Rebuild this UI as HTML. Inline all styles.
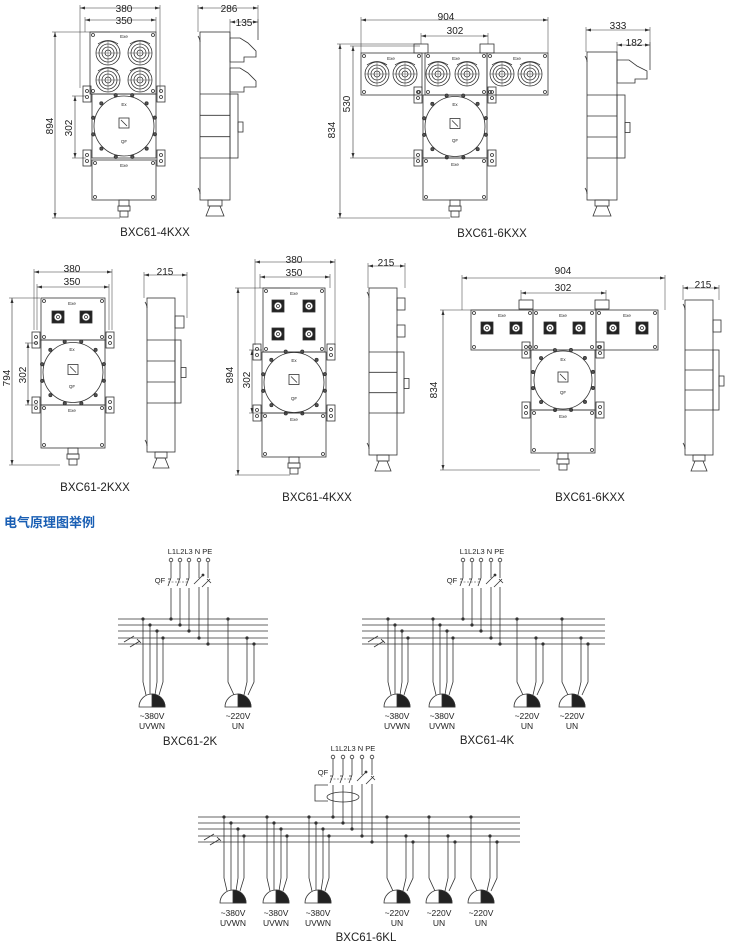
<!DOCTYPE html>
<html><head><meta charset="utf-8"><style>
html,body{margin:0;padding:0;background:#fff}
svg{display:block}
text{font-family:"Liberation Sans",Arial,sans-serif;fill:#222}
</style></head><body>
<svg id="s" width="730" height="942" viewBox="0 0 730 942" xmlns="http://www.w3.org/2000/svg">
<g id="g" fill="none" stroke="#333" stroke-width="0.8"></g>
<g font-size="10" text-anchor="middle">
<text x="124" y="12">380</text><text x="124" y="24">350</text>
<text x="53" y="126" transform="rotate(-90 53 126)">894</text>
<text x="72" y="128" transform="rotate(-90 72 128)">302</text>
<text x="229" y="12">286</text><text x="244" y="26">135</text>
<text x="155" y="236" font-size="11.5">BXC61-4KXX</text>

<text x="446" y="20">904</text><text x="455" y="34">302</text>
<text x="350" y="104" transform="rotate(-90 350 104)">530</text>
<text x="335" y="130" transform="rotate(-90 335 130)">834</text>
<text x="618" y="29">333</text><text x="634" y="46">182</text>
<text x="492" y="237" font-size="11.5">BXC61-6KXX</text>

<text x="72" y="272">380</text><text x="72" y="285">350</text>
<text x="10" y="378" transform="rotate(-90 10 378)">794</text>
<text x="26" y="375" transform="rotate(-90 26 375)">302</text>
<text x="165" y="275">215</text>
<text x="95" y="491" font-size="11.5">BXC61-2KXX</text>

<text x="294" y="263">380</text><text x="294" y="276">350</text>
<text x="233" y="375" transform="rotate(-90 233 375)">894</text>
<text x="250" y="380" transform="rotate(-90 250 380)">302</text>
<text x="386" y="266">215</text>
<text x="317" y="501" font-size="11.5">BXC61-4KXX</text>

<text x="563" y="274">904</text><text x="563" y="291">302</text>
<text x="437" y="390" transform="rotate(-90 437 390)">834</text>
<text x="703" y="288">215</text>
<text x="590" y="501" font-size="11.5">BXC61-6KXX</text>
</g>
<g font-size="4.5" text-anchor="middle">
<text x="124" y="38">Exe</text><text x="124" y="106">Ex</text><text x="124" y="143">QF</text><text x="124" y="167">Exe</text>
<text x="391" y="60">Exe</text><text x="456" y="60">Exe</text><text x="517" y="60">Exe</text>
<text x="455" y="106">Ex</text><text x="455" y="142">QF</text><text x="455" y="166">Exe</text>
<text x="72" y="305">Exe</text><text x="72" y="351">Ex</text><text x="72" y="388">QF</text><text x="72" y="412">Exe</text>
<text x="294" y="295">Exe</text><text x="294" y="362">Ex</text><text x="294" y="400">QF</text><text x="294" y="421">Exe</text>
<text x="502" y="317">Exe</text><text x="563" y="317">Exe</text><text x="627" y="317">Exe</text>
<text x="563" y="361">Ex</text><text x="563" y="394">QF</text><text x="563" y="418">Exe</text>
</g>
<text x="4" y="527" font-size="13" font-weight="bold" style="fill:#1a5fb4;font-family:'Liberation Sans','Noto Sans CJK SC',sans-serif">电气原理图举例</text>
<g font-size="7.5" text-anchor="middle">
<text x="190" y="554">L1L2L3 N PE</text><text x="160" y="583">QF</text>
<text x="482" y="554">L1L2L3 N PE</text><text x="452" y="583">QF</text>
<text x="353" y="751">L1L2L3 N PE</text><text x="323" y="775">QF</text>
</g>
<g font-size="8.5" text-anchor="middle">
<text x="152" y="719">~380V</text><text x="152" y="729">UVWN</text>
<text x="238" y="719">~220V</text><text x="238" y="729">UN</text>
<text x="397" y="719">~380V</text><text x="397" y="729">UVWN</text>
<text x="442" y="719">~380V</text><text x="442" y="729">UVWN</text>
<text x="527" y="719">~220V</text><text x="527" y="729">UN</text>
<text x="572" y="719">~220V</text><text x="572" y="729">UN</text>
<text x="233" y="916">~380V</text><text x="233" y="926">UVWN</text>
<text x="276" y="916">~380V</text><text x="276" y="926">UVWN</text>
<text x="318" y="916">~380V</text><text x="318" y="926">UVWN</text>
<text x="397" y="916">~220V</text><text x="397" y="926">UN</text>
<text x="439" y="916">~220V</text><text x="439" y="926">UN</text>
<text x="481" y="916">~220V</text><text x="481" y="926">UN</text>
</g>
<g font-size="11.5" text-anchor="middle">
<text x="190" y="745">BXC61-2K</text><text x="487" y="744">BXC61-4K</text><text x="366" y="941">BXC61-6KL</text>
</g>
</svg>
<script>
var G=document.getElementById('g'),NS='http://www.w3.org/2000/svg';
function el(t,a){var e=document.createElementNS(NS,t);for(var k in a)e.setAttribute(k,a[k]);G.appendChild(e);return e;}
function L(x1,y1,x2,y2,a){var o={x1:x1,y1:y1,x2:x2,y2:y2};for(var k in a)o[k]=a[k];return el('line',o);}
function R(x,y,w,h,a){var o={x:x,y:y,width:w,height:h};for(var k in a)o[k]=a[k];return el('rect',o);}
function C(x,y,r,a){var o={cx:x,cy:y,r:r};for(var k in a)o[k]=a[k];return el('circle',o);}
function P(d,a){var o={d:d};for(var k in a)o[k]=a[k];return el('path',o);}
function arrow(x,y,dx,dy){var px=-dy,py=dx;P('M'+x+' '+y+'L'+(x-dx*5+px*1.5)+' '+(y-dy*5+py*1.5)+'L'+(x-dx*5-px*1.5)+' '+(y-dy*5-py*1.5)+'Z',{fill:'#333',stroke:'none'});}
function dimH(x0,x1,y,e0,e1){L(x0,y,x1,y,{'stroke-width':0.6});arrow(x0,y,-1,0);arrow(x1,y,1,0);L(x0,y-3,x0,e0,{'stroke-width':0.5});L(x1,y-3,x1,e1===undefined?e0:e1,{'stroke-width':0.5});}
function dimV(x,y0,y1,e0,e1){L(x,y0,x,y1,{'stroke-width':0.6});arrow(x,y0,0,-1);arrow(x,y1,0,1);L(x-3,y0,e0,y0,{'stroke-width':0.5});L(x-3,y1,e1===undefined?e0:e1,y1,{'stroke-width':0.5});}
function bolts(x,y,w,h){[[x+3,y+3],[x+w-3,y+3],[x+3,y+h-3],[x+w-3,y+h-3]].forEach(function(p){C(p[0],p[1],1.5);});}
function rsock(x,y){C(x,y,12);C(x,y,9);C(x,y,6);C(x,y,3);P('M'+(x-10)+' '+(y-9)+'Q'+x+' '+(y-16)+' '+(x+10)+' '+(y-9));L(x-12,y,x+12,y,{'stroke-width':0.4});L(x,y-12,x,y+12,{'stroke-width':0.4});}
function ssock(x,y){R(x-6,y-6,12,12,{fill:'#222'});C(x,y,4,{fill:'#fff'});C(x,y,1.5);}
function bracket(x,y){R(x,y,8,16);C(x+4,y+5,1.5);C(x+4,y+11,1.5);}
function mid(cx,y0,y1,r){var w=64;R(cx-w/2,y0,w,y1-y0);var cy=(y0+y1)/2;C(cx,cy,r);
 for(var i=0;i<12;i++){var a=i*Math.PI/6+0.26;C(cx+Math.cos(a)*(r+2),cy+Math.sin(a)*(r+2),1.6,{fill:'#555'});}
 R(cx-5,cy-8,10,10);L(cx-3,cy-6,cx+3,cy);
 bracket(cx-w/2-9,y0-8);bracket(cx+w/2+1,y0-8);bracket(cx-w/2-9,y1-8);bracket(cx+w/2+1,y1-8);}
function bottom(cx,y0,y1){R(cx-32,y0,64,y1-y0);bolts(cx-32,y0,64,y1-y0);R(cx-5,y1,10,6);R(cx-6,y1+6,12,5);R(cx-4,y1+11,8,6);}
function side(x0,x1,y0,ya,yb,y1,ext){R(x0,y0,x1-x0,y1-y0);L(x0,ya,x1,ya);L(x0,yb,x1,yb);R(x1,ya,ext,yb-ya);
 var s=(yb-ya)/3;L(x0,ya+s,x1,ya+s);L(x0,ya+2*s,x1,ya+2*s);R(x1+ext,(ya+yb)/2-4,5,10);
 P('M'+(x0-2)+' '+(y0+4)+'q2 3 2 6');P('M'+(x0-2)+' '+(y1-12)+'q2 3 2 6');
 R(x0+8,y1,x1-x0-16,6);P('M'+(x0+6)+' '+(y1+16)+'l4 -10h'+(x1-x0-20)+'l4 10z');}
/* Drawing 1 */
R(90,32,66,62);bolts(90,32,66,62);rsock(108,53);rsock(140,53);rsock(108,80);rsock(140,80);
mid(124,94,158,30);bottom(124,160,200);
dimH(80,160,8,88,92);dimH(85,156,20,32);dimV(55,32,218,110,120);dimV(75,96,158,86,86);
side(200,230,32,94,158,200,8);P('M230 38h10l8 5l8 8v6h-12v5h-14z');P('M230 68h10l8 5l8 8v6h-12v5h-14z');
dimH(198,258,8,32,40);dimH(230,258,22,40);
/* Drawing 2 */
[361,425,487].forEach(function(x,i){R(x,53,(i==1?62:61),42);bolts(x,53,(i==1?62:61),42);});
[377,405,438,467,502,530].forEach(function(x){rsock(x,74);});
R(414,44,14,9);R(480,44,14,9);
mid(455,95,158,30);bottom(455,158,200);
dimH(361,548,20,53);dimH(421,488,36,44);dimV(353,46,158,420,420);dimV(340,44,218,420,450);
side(587,617,52,95,158,200,8);P('M617 60h12l8 6l10 5v8h-12v4h-18z');
dimH(586,650,30,52,70);dimH(617,650,45,70);
/* Drawing 3 */
R(41,298,64,42);bolts(41,298,64,42);ssock(58,317);ssock(86,317);
mid(73,340,405,30);bottom(73,405,448);
dimH(34,112,272,330);dimH(37,109,287,330);dimV(12,298,465,40,60);dimV(28,343,405,38,38);
side(147,175,298,340,403,452,6);R(175,316,9,12);
dimH(144,187,275,298,318);
/* Drawing 4 */
R(263,288,62,64);bolts(263,288,62,64);ssock(278,306);ssock(309,306);ssock(278,334);ssock(309,334);
mid(294,352,413,30);bottom(294,413,457);
dimH(255,335,262,345);dimH(260,330,277,288);dimV(238,288,475,290,290);dimV(252,350,413,262,262);
side(369,397,288,352,413,455,7);R(397,298,8,12);R(397,325,8,12);
dimH(368,405,266,288);
/* Drawing 5 */
[471,533,596].forEach(function(x){R(x,310,(x==533?63:62),40);bolts(x,310,62,40);});
[487,516,550,579,613,642].forEach(function(x){ssock(x,328);});
R(519,300,14,9);R(595,300,14,9);
mid(563,350,410,29);bottom(563,410,453);
dimH(462,665,278,310);dimH(521,606,293,300);dimV(443,310,470,530,540);
side(685,713,300,350,410,455,6);R(713,320,8,12);
dimH(683,719,288,300);
/* schematics */
function sch(o){var tx=o.tx,ty=o.ty,by=o.by,q=ty+24;
 by.forEach(function(y){L(o.b0,y,o.b1,y);});
 L(o.b0+6,by[3]+4,o.b0+16,by[3]-2);L(o.b0+12,by[4]+3,o.b0+22,by[4]-3);L(o.b0+19,by[4]-5,o.b0+23,by[4]-1);
 tx.forEach(function(x,i){C(x,ty,1.8);L(x,ty+2,x,q-6);
  if(i<3){L(x,q-6,x-3,q+2);L(x-3,q-5,x,q-5);L(x,q+4,x,by[i]);}
  else if(i==3){L(x-5,q,x+4,q-9);C(x+4,q-9,1,{fill:'#333'});L(x,q+3,x,by[3]);}
  else{L(x-6,q+3,x+2,q-5);L(x-1,q-5,x+3,q-1);L(x,q+3,x,by[4]);}
  C(x,by[i],1.2,{fill:'#333'});});
 L(tx[0]-3,q-2,tx[2],q-2,{'stroke-dasharray':'2 1.5','stroke-width':0.5});
 if(o.ct){P('M'+(tx[0]-5)+' '+(q+4)+'h-13v16h13');el('ellipse',{cx:tx[1],cy:q+16,rx:16,ry:5});}
 o.s.forEach(function(s){var x=s[0],b=o.base,t=b-13;
  var offs=s[1]==3?[[-9,0],[-2,1],[5,2],[11,3]]:[[-10,0],[9,3],[16,4]];
  var tgt=s[1]==3?[-6,-2,3,7]:[-4,6,10];
  offs.forEach(function(p,i){var xx=x+p[0];C(xx,by[p[1]],1.2,{fill:'#333'});P('M'+xx+' '+by[p[1]]+'V'+(t-12)+'L'+(x+tgt[i])+' '+(t+1));});
  P('M'+(x-13)+' '+b+'A13 13 0 0 1 '+(x+13)+' '+b+'Z',{fill:'#fff'});
  P('M'+x+' '+b+'V'+(b-13)+'A13 13 0 0 1 '+(x+13)+' '+b+'Z',{fill:'#222'});});}
sch({tx:[171,180,189,199,208],ty:560,by:[619,625,631,638,644],b0:118,b1:268,base:707,s:[[152,3],[238,2]]});
sch({tx:[463,472,481,491,500],ty:560,by:[619,625,631,638,644],b0:362,b1:605,base:707,s:[[397,3],[442,3],[527,2],[572,2]]});
sch({tx:[333,343,352,362,372],ty:757,by:[817,823,829,836,842],b0:198,b1:520,base:903,ct:1,s:[[233,3],[276,3],[318,3],[397,2],[439,2],[481,2]]});
</script>
</body></html>
